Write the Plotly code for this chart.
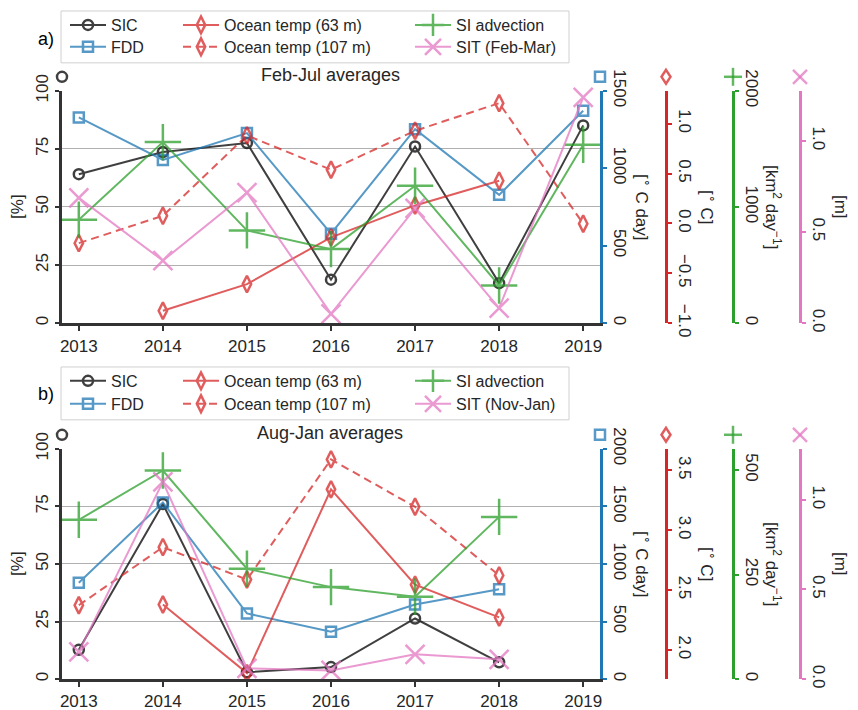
import plotly.graph_objects as go

# The page body has an 8px default margin: the figure is sized to fill the rest of the window
OFF = 8
W, H = 858 - OFF, 710 - OFF
FONT = "Liberation Sans, Arial, sans-serif"
TXT = "#262626"

years = [2013, 2014, 2015, 2016, 2017, 2018, 2019]
tick_years = [2013, 2014, 2015, 2016, 2017, 2018, 2019]

# ---- Panel a: Feb-Jul averages ----
sic_a = [64.1, 73.6, 77.5, 18.7, 76.0, 17.2, 85.1]
fdd_a = [1328, 1053, 1227, 577, 1252, 828, 1371]
ot63_a = [None, -0.876, -0.609, -0.14, 0.18, 0.428, None]
ot107_a = [-0.198, 0.076, 0.882, 0.538, 0.929, 1.206, -0.003]
siadv_a = [890, 1558, 798, 637, 1182, 324, 1535]
sit_a = [0.687, 0.343, 0.716, 0.051, 0.629, 0.082, 1.239]

# ---- Panel b: Aug-Jan averages ----
sic_b = [12.7, 76.0, 3.0, 5.2, 26.3, 7.3, None]
fdd_b = [837, 1534, 570, 412, 647, 780, None]
ot63_b = [None, 2.379, 1.806, 3.341, 2.545, 2.271, None]
ot107_b = [2.373, 2.858, 2.587, 3.591, 3.195, 2.622, None]
siadv_b = [381, 499, 264, 220, 197, 388, None]
sit_b = [0.152, 1.100, 0.060, 0.048, 0.138, 0.110, None]

# tick labels
pct_ticks = [0, 25, 50, 75, 100]
fdd_ticks_a = [0, 500, 1000, 1500]
ot_ticks_a = [-1.0, -0.5, 0.0, 0.5, 1.0]
adv_ticks_a = [0, 1000, 2000]
sit_ticks = [0.0, 0.5, 1.0]
fdd_ticks_b = [0, 500, 1000, 1500, 2000]
ot_ticks_b = [2.0, 2.5, 3.0, 3.5]
adv_ticks_b = [0, 250, 500]

C_SIC = "#000000"
C_FDD = "#1f77b4"
C_OT = "#d62728"
C_ADV = "#2ca02c"
C_SIT = "#e377c2"
ALPHA = 0.75


def rgba(hexc, a):
    h = hexc.lstrip("#")
    r, g, b = int(h[0:2], 16), int(h[2:4], 16), int(h[4:6], 16)
    return f"rgba({r},{g},{b},{a})"


def PX(px):
    return (px - OFF) / W


def PY(py):
    return 1 - (py - OFF) / H


fig = go.Figure()

XL, XR = 62, 600
panels = [
    dict(top=89, bot=322, xa="x", ys=["y", "y2", "y3", "y4", "y5"],
         data=[sic_a, fdd_a, ot63_a, ot107_a, siadv_a, sit_a],
         sitname="SIT (Feb-Mar)", legs=["legend", "legend2", "legend3", "legend4", "legend5", "legend6"],
         rows=(23, 45), box=(9, 61), title="Feb-Jul averages", title_y=73, lab="a)", lab_y=37, mk_y=75,
         ranges=[[0, 100], [0, 1500], [-1.0, 1.33], [0, 2000], [0, 1.275]],
         ticks=[pct_ticks, fdd_ticks_a, ot_ticks_a, adv_ticks_a, sit_ticks]),
    dict(top=448, bot=679, xa="x2", ys=["y6", "y7", "y8", "y9", "y10"],
         data=[sic_b, fdd_b, ot63_b, ot107_b, siadv_b, sit_b],
         sitname="SIT (Nov-Jan)", legs=["legend7", "legend8", "legend9", "legend10", "legend11", "legend12"],
         rows=(380, 403), box=(366, 419), title="Aug-Jan averages", title_y=432, lab="b)", lab_y=393, mk_y=434,
         ranges=[[0, 100], [0, 2000], [1.756, 3.68], [0, 551], [0, 1.285]],
         ticks=[pct_ticks, fdd_ticks_b, ot_ticks_b, adv_ticks_b, sit_ticks]),
]

axis_x_pos = [None, None, 666, 733, 800]
axis_cols = ["#333333", C_FDD, C_OT, C_ADV, C_SIT]
tickfmt = [None, None, ".1f", None, ".1f"]

layout = dict(width=W, height=H, margin=dict(l=0, r=0, t=0, b=0),
              paper_bgcolor="white", plot_bgcolor="white",
              font=dict(family=FONT, size=17, color=TXT), showlegend=True)
shapes = []
annotations = []

col_x = [70, 183, 415]

for p in panels:
    dom_y = [PY(p["bot"]), PY(p["top"])]
    xkey = "xaxis" if p["xa"] == "x" else "xaxis2"
    layout[xkey] = dict(domain=[PX(XL), PX(XR)], range=[2012.8, 2019.2], anchor=p["ys"][0],
                        tickvals=tick_years, ticks="outside", ticklen=5, tickwidth=1.5, tickcolor="#333333",
                        showline=True, linecolor="#333333", linewidth=3, showgrid=False, zeroline=False,
                        tickfont=dict(size=17, color=TXT), automargin=False)
    for i, yname in enumerate(p["ys"]):
        ykey = "yaxis" + yname[1:]
        ax = dict(range=p["ranges"][i], tickvals=p["ticks"][i], ticks="outside", ticklen=4,
                  tickwidth=1.5, tickcolor=axis_cols[i] if i > 0 else "#333333",
                  showline=True, linecolor=axis_cols[i], linewidth=3, zeroline=False,
                  tickfont=dict(size=17, color=TXT), automargin=False)
        if tickfmt[i]:
            ax["tickformat"] = tickfmt[i]
        if i == 0:
            ax.update(domain=dom_y, anchor=p["xa"], side="left", tickangle=-90,
                      showgrid=True, gridcolor="#b0b0b0", gridwidth=1)
        else:
            ax.update(overlaying=p["ys"][0], side="right", tickangle=90, showgrid=False)
            if i == 1:
                ax["anchor"] = p["xa"]
            else:
                ax["anchor"] = "free"
                ax["position"] = PX(axis_x_pos[i])
        layout[ykey] = ax

    sic, fdd, o63, o107, adv, sit = p["data"]
    specs = [
        (sic, "SIC", C_SIC, "circle-open", 10, "solid", p["ys"][0]),
        (fdd, "FDD", C_FDD, "square-open", 10, "solid", p["ys"][1]),
        (o63, "Ocean temp (63 m)", C_OT, "diamond-tall-open", 12, "solid", p["ys"][2]),
        (o107, "Ocean temp (107 m)", C_OT, "diamond-tall-open", 12, "8px,5px", p["ys"][2]),
        (adv, "SI advection", C_ADV, "cross-thin-open", 26, "solid", p["ys"][3]),
        (sit, p["sitname"], C_SIT, "x-thin-open", 19, "solid", p["ys"][4]),
    ]
    for k, (vals, name, col, sym, size, dash, ya) in enumerate(specs):
        fig.add_trace(go.Scatter(
            x=years, y=vals, name=name, mode="lines+markers",
            line=dict(color=col, width=2, dash=dash),
            marker=dict(symbol=sym, size=size, color=col, line=dict(color=col, width=2.5)),
            opacity=ALPHA, xaxis=p["xa"], yaxis=ya, legend=p["legs"][k],
            cliponaxis=False, connectgaps=False, hoverinfo="x+y+name"))
        col_i = k // 2
        row_i = k % 2
        layout[p["legs"][k]] = dict(x=PX(col_x[col_i] - 5), xanchor="left",
                                    y=PY(p["rows"][row_i]), yanchor="middle",
                                    bgcolor="rgba(0,0,0,0)", borderwidth=0,
                                    font=dict(size=16, color=TXT), itemwidth=36)

    # legend frame
    shapes.append(dict(type="rect", xref="paper", yref="paper", x0=PX(61), x1=PX(569),
                       y0=PY(p["box"][1]), y1=PY(p["box"][0]),
                       line=dict(color="#d0d0d0", width=1), fillcolor="white", layer="below"))
    # panel label, title
    annotations.append(dict(text=p["lab"], x=PX(46), y=PY(p["lab_y"]), xref="paper", yref="paper",
                            showarrow=False, font=dict(size=18, color="black"), xanchor="center", yanchor="middle"))
    annotations.append(dict(text=p["title"], x=PX(330), y=PY(p["title_y"]), xref="paper", yref="paper",
                            showarrow=False, font=dict(size=18, color=TXT), xanchor="center", yanchor="middle"))
    mid = (p["top"] + p["bot"]) / 2
    titles = [("[%]", 18, -90), ("[<sup>∘</sup> C day]", 643, 90), ("[<sup>∘</sup> C]", 708, 90),
              ("[km<sup>2</sup> day<sup>−1</sup>]", 773, 90), ("[m]", 840, 90)]
    for t, xp, ang in titles:
        annotations.append(dict(text=t, x=PX(xp), y=PY(mid), xref="paper", yref="paper", showarrow=False,
                                textangle=ang, font=dict(size=17, color=TXT), xanchor="center", yanchor="middle"))

    # axis-top symbols
    my = p["mk_y"]
    cs = rgba(C_SIC, ALPHA)
    shapes.append(dict(type="circle", xref="paper", yref="paper", x0=PX(62 - 5), x1=PX(62 + 5),
                       y0=PY(my + 5), y1=PY(my - 5), line=dict(color=cs, width=2.5)))
    cf = rgba(C_FDD, ALPHA)
    shapes.append(dict(type="rect", xref="paper", yref="paper", x0=PX(600 - 5), x1=PX(600 + 5),
                       y0=PY(my + 5), y1=PY(my - 5), line=dict(color=cf, width=2.5)))
    co = rgba(C_OT, ALPHA)
    dx = 666
    shapes.append(dict(type="path", xref="paper", yref="paper",
                       path=f"M{PX(dx)},{PY(my-7)} L{PX(dx+4.5)},{PY(my)} L{PX(dx)},{PY(my+7)} L{PX(dx-4.5)},{PY(my)} Z",
                       line=dict(color=co, width=2.5)))
    ca = rgba(C_ADV, ALPHA)
    ax_ = 733
    shapes.append(dict(type="line", xref="paper", yref="paper", x0=PX(ax_ - 9), x1=PX(ax_ + 9),
                       y0=PY(my), y1=PY(my), line=dict(color=ca, width=2.5)))
    shapes.append(dict(type="line", xref="paper", yref="paper", x0=PX(ax_), x1=PX(ax_),
                       y0=PY(my - 9), y1=PY(my + 9), line=dict(color=ca, width=2.5)))
    ct = rgba(C_SIT, ALPHA)
    sx = 800
    shapes.append(dict(type="line", xref="paper", yref="paper", x0=PX(sx - 7), x1=PX(sx + 7),
                       y0=PY(my - 7), y1=PY(my + 7), line=dict(color=ct, width=2.5)))
    shapes.append(dict(type="line", xref="paper", yref="paper", x0=PX(sx - 7), x1=PX(sx + 7),
                       y0=PY(my + 7), y1=PY(my - 7), line=dict(color=ct, width=2.5)))

layout["shapes"] = shapes
layout["annotations"] = annotations
fig.update_layout(**layout)
fig.write_html("out.html")
